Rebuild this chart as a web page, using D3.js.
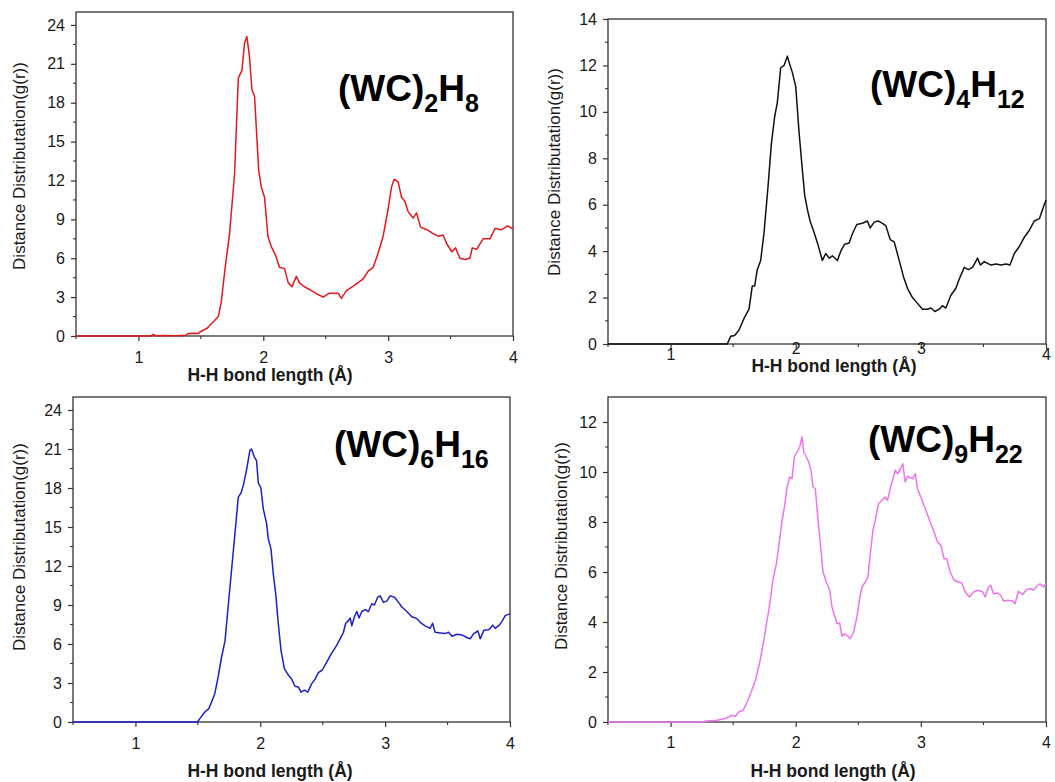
<!DOCTYPE html>
<html>
<head>
<meta charset="utf-8">
<script src="https://cdn.jsdelivr.net/npm/d3@7"></script>
<style>
  html, body { margin: 0; padding: 0; background: #fff; }
  svg { display: block; font-family: "Liberation Sans", Arial, sans-serif; }
</style>
</head>
<body>
<svg id="chart" width="1055" height="782"></svg>
<script>
// ---------- DATA ----------
const xTicks = [1, 2, 3, 4];
const xMinorTicks = [0.5, 1.5, 2.5, 3.5];
const xLabel = "H-H bond length (Å)";
const yLabel = "Distance Distributation(g(r))";

// (WC)2H8
const wc2h8X = [0.5,1.1,1.12,1.14,1.2,1.3,1.38,1.4,1.45,1.48,1.5,1.55,1.58,1.61,1.64,1.663,1.695,1.73,1.77,1.80,1.829,1.85,1.869,1.89,1.909,1.93,1.944,1.963,1.984,2.01,2.037,2.064,2.10,2.13,2.17,2.20,2.23,2.265,2.29,2.33,2.385,2.44,2.48,2.53,2.60,2.625,2.666,2.73,2.80,2.84,2.88,2.92,2.96,3.00,3.027,3.048,3.08,3.107,3.134,3.16,3.20,3.227,3.26,3.31,3.36,3.40,3.44,3.47,3.51,3.54,3.575,3.615,3.655,3.674,3.71,3.76,3.816,3.856,3.91,3.957,3.99,4.0];
const wc2h8Y = [0,0,0.12,0.02,0.03,0.02,0.05,0.2,0.22,0.2,0.35,0.6,0.9,1.2,1.5,2.6,5.3,7.9,12.5,19.9,20.5,22.6,23.1,21.5,19.0,18.5,16.1,12.8,11.5,10.7,7.7,6.9,6.2,5.3,5.2,4.1,3.8,4.6,4.1,3.8,3.5,3.2,3.0,3.3,3.3,2.9,3.5,3.9,4.4,5.0,5.3,6.4,7.7,9.8,11.5,12.1,11.9,10.7,10.4,9.6,9.1,9.5,8.4,8.2,7.9,7.7,7.8,7.1,6.5,6.8,6.0,5.9,6.0,6.8,6.7,7.5,7.5,8.3,8.2,8.5,8.3,8.3];

// (WC)4H12
const wc4h12X = [0.5,1.40,1.453,1.48,1.512,1.547,1.587,1.627,1.653,1.672,1.693,1.72,1.747,1.779,1.805,1.832,1.853,1.88,1.907,1.933,1.955,1.973,2.0,2.027,2.053,2.072,2.093,2.115,2.147,2.179,2.213,2.24,2.267,2.293,2.333,2.36,2.392,2.427,2.453,2.488,2.533,2.573,2.595,2.627,2.659,2.693,2.72,2.755,2.787,2.827,2.861,2.893,2.933,2.973,3.013,3.053,3.08,3.112,3.147,3.173,3.2,3.24,3.28,3.307,3.347,3.379,3.413,3.453,3.475,3.507,3.56,3.6,3.64,3.68,3.712,3.747,3.787,3.827,3.867,3.907,3.947,3.973,4.0];
const wc4h12Y = [0,0,0,0.33,0.37,0.6,1.1,1.5,2.5,2.5,3.2,3.6,4.8,6.8,8.6,9.8,10.4,11.9,12.0,12.4,12.0,11.7,11.1,9.1,7.5,6.4,5.8,5.3,4.8,4.25,3.6,3.9,3.7,3.8,3.6,4.0,4.3,4.35,4.75,5.15,5.2,5.3,5.0,5.25,5.3,5.2,5.1,4.5,4.4,3.6,2.9,2.4,2.0,1.75,1.5,1.5,1.55,1.4,1.5,1.65,1.55,2.1,2.4,2.8,3.3,3.2,3.3,3.7,3.4,3.55,3.4,3.45,3.4,3.45,3.4,3.9,4.2,4.6,4.9,5.3,5.4,5.8,6.2];

// (WC)6H16
const wc6h16X = [0.5,1.497,1.516,1.556,1.588,1.61,1.636,1.663,1.69,1.717,1.743,1.77,1.797,1.824,1.845,1.864,1.89,1.917,1.93,1.952,1.97,1.984,2.005,2.024,2.05,2.064,2.086,2.104,2.123,2.144,2.166,2.193,2.225,2.251,2.278,2.305,2.326,2.353,2.38,2.412,2.439,2.465,2.497,2.532,2.572,2.612,2.639,2.666,2.684,2.706,2.72,2.733,2.754,2.773,2.791,2.813,2.84,2.866,2.893,2.914,2.94,2.96,2.987,3.013,3.04,3.075,3.107,3.134,3.174,3.214,3.254,3.289,3.32,3.36,3.38,3.40,3.44,3.48,3.508,3.535,3.575,3.615,3.655,3.682,3.709,3.743,3.762,3.79,3.83,3.861,3.882,3.914,3.94,3.963,3.995,4.0];
const wc6h16Y = [0,0,0.26,0.77,1.03,1.54,2.2,3.5,5.0,6.2,8.9,11.7,14.5,17.3,17.6,18.2,19.4,20.9,21.0,20.4,20.1,18.4,18.0,16.4,15.3,14.1,13.3,11.4,9.9,7.6,5.5,4.1,3.6,3.3,2.75,2.7,2.3,2.45,2.3,2.95,3.3,3.8,4.0,4.6,5.3,5.9,6.4,6.9,7.6,7.8,8.0,7.4,8.1,8.5,8.0,8.5,8.65,8.5,9.1,9.0,9.6,9.7,9.2,9.3,9.7,9.6,9.2,8.85,8.5,8.1,7.95,7.6,7.4,7.2,7.6,6.9,6.85,6.8,6.9,6.6,6.75,6.7,6.5,6.4,6.8,7.0,6.4,7.05,7.1,7.45,7.2,7.45,7.8,8.2,8.3,8.3];

// (WC)9H22
const wc9h22X = [0.5,1.25,1.293,1.372,1.426,1.465,1.492,1.519,1.545,1.58,1.612,1.644,1.678,1.713,1.745,1.771,1.793,1.819,1.846,1.864,1.891,1.91,1.931,1.952,1.971,1.989,2.011,2.032,2.05,2.064,2.085,2.104,2.122,2.138,2.157,2.176,2.197,2.218,2.245,2.271,2.29,2.309,2.33,2.351,2.37,2.391,2.415,2.436,2.463,2.489,2.511,2.529,2.556,2.577,2.596,2.617,2.636,2.662,2.689,2.715,2.734,2.755,2.777,2.795,2.814,2.835,2.856,2.875,2.894,2.915,2.936,2.955,2.973,3.0,3.035,3.069,3.101,3.133,3.16,3.186,3.207,3.234,3.266,3.3,3.327,3.354,3.388,3.42,3.46,3.495,3.513,3.54,3.559,3.58,3.612,3.638,3.66,3.699,3.734,3.753,3.779,3.814,3.846,3.878,3.899,3.926,3.952,3.979,4.0];
const wc9h22Y = [0,0,0.04,0.07,0.13,0.2,0.27,0.23,0.4,0.47,0.8,1.2,1.67,2.4,3.27,4.07,4.73,5.73,6.33,7.0,8.07,8.6,9.4,9.8,9.73,10.6,10.8,11.0,11.4,10.8,10.6,10.4,10.07,9.4,9.33,8.2,7.13,6.0,5.6,5.27,4.6,4.27,3.93,3.96,3.43,3.53,3.44,3.33,3.6,4.2,4.93,5.4,5.6,5.8,6.73,7.67,8.07,8.73,8.87,9.0,8.87,9.33,9.73,10.07,9.93,10.1,10.33,9.6,9.83,9.77,9.73,9.93,9.33,9.0,8.53,8.07,7.67,7.2,7.07,6.53,6.53,6.0,5.67,5.6,5.56,5.2,5.0,5.2,5.27,5.2,5.0,5.4,5.47,5.13,5.16,5.07,4.84,4.87,4.84,4.73,5.23,5.1,5.3,5.33,5.27,5.43,5.53,5.4,5.53];

const titleMain = ["(WC)", "(WC)", "(WC)", "(WC)"];
const titleSubA = ["2", "4", "6", "9"];
const titleSubB = ["8", "12", "16", "22"];

// ---------- LAYOUT ----------
const panels = [
  { x: wc2h8X, y: wc2h8Y, color: "#e3191c", left: 76, right: 513, top: 12, bottom: 336, yMax: 25,
    yTicks: [0,3,6,9,12,15,18,21,24], yMinor: [1.5,4.5,7.5,10.5,13.5,16.5,19.5,22.5],
    yLabX: 19, yLabY: 166, xLabX: 270, xLabY: 381, tickLabDy: 27, titleX: 338, titleY: 101 },
  { x: wc4h12X, y: wc4h12Y, color: "#111111", left: 608, right: 1046, top: 19, bottom: 344, yMax: 14,
    yTicks: [0,2,4,6,8,10,12,14], yMinor: [1,3,5,7,9,11,13],
    yLabX: 554, yLabY: 172, xLabX: 834, xLabY: 372, tickLabDy: 16, titleX: 870, titleY: 97 },
  { x: wc6h16X, y: wc6h16Y, color: "#1f1fc4", left: 73, right: 510, top: 397, bottom: 722, yMax: 25,
    yTicks: [0,3,6,9,12,15,18,21,24], yMinor: [1.5,4.5,7.5,10.5,13.5,16.5,19.5,22.5],
    yLabX: 19, yLabY: 547, xLabX: 270, xLabY: 777, tickLabDy: 27, titleX: 334, titleY: 457 },
  { x: wc9h22X, y: wc9h22Y, color: "#ee74ee", left: 608, right: 1046, top: 397, bottom: 722, yMax: 13,
    yTicks: [0,2,4,6,8,10,12], yMinor: [1,3,5,7,9,11],
    yLabX: 561, yLabY: 546, xLabX: 833, xLabY: 777, tickLabDy: 26, titleX: 868, titleY: 452 }
];

const svg = d3.select("#chart");
const axisColor = "#333";

panels.forEach((p, i) => {
  const xs = d3.scaleLinear().domain([0.5, 4]).range([p.left, p.right]);
  const ys = d3.scaleLinear().domain([0, p.yMax]).range([p.bottom, p.top]);
  const g = svg.append("g");

  // frame
  g.append("rect")
    .attr("x", p.left).attr("y", p.top)
    .attr("width", p.right - p.left).attr("height", p.bottom - p.top)
    .attr("fill", "none").attr("stroke", axisColor).attr("stroke-width", 1.3);

  // minor ticks
  g.selectAll(".ymin").data(p.yMinor).enter().append("line")
    .attr("x1", p.left - 3).attr("x2", p.left)
    .attr("y1", d => ys(d)).attr("y2", d => ys(d))
    .attr("stroke", axisColor).attr("stroke-width", 1.1);
  g.selectAll(".xmin").data(xMinorTicks).enter().append("line")
    .attr("x1", d => xs(d)).attr("x2", d => xs(d))
    .attr("y1", p.bottom).attr("y2", p.bottom + 3)
    .attr("stroke", axisColor).attr("stroke-width", 1.1);

  // major axes
  const yAxis = d3.axisLeft(ys).tickValues(p.yTicks).tickSize(5).tickSizeOuter(0).tickPadding(6).tickFormat(d3.format("d"));
  const ya = g.append("g").attr("transform", `translate(${p.left},0)`).call(yAxis);
  ya.select(".domain").remove();
  ya.selectAll("line").attr("stroke", axisColor).attr("stroke-width", 1.2);
  ya.selectAll("text").attr("font-size", 16).attr("fill", "#1a1a1a");

  const xAxis = d3.axisBottom(xs).tickValues(xTicks).tickSize(5).tickSizeOuter(0).tickFormat(d3.format("d"));
  const xa = g.append("g").attr("transform", `translate(0,${p.bottom})`).call(xAxis);
  xa.select(".domain").remove();
  xa.selectAll("line").attr("stroke", axisColor).attr("stroke-width", 1.2);
  xa.selectAll("text").attr("font-size", 16).attr("fill", "#1a1a1a")
    .attr("dy", null).attr("y", d => (i === 1 && (d === 2 || d === 3)) ? p.tickLabDy - 6 : p.tickLabDy);

  // curve
  const pts = p.x.map((v, k) => [v, p.y[k]]);
  g.append("path").datum(pts)
    .attr("fill", "none").attr("stroke", p.color).attr("stroke-width", 1.5)
    .attr("stroke-linejoin", "round")
    .attr("d", d3.line().x(d => xs(d[0])).y(d => ys(d[1])));

  // axis labels
  g.append("text")
    .attr("transform", `translate(${p.yLabX},${p.yLabY}) rotate(-90)`)
    .attr("text-anchor", "middle").attr("dominant-baseline", "central")
    .attr("font-size", 17).attr("fill", "#1a1a1a").text(yLabel);
  g.append("text")
    .attr("x", p.xLabX).attr("y", p.xLabY)
    .attr("text-anchor", "middle").attr("font-size", 17.5).attr("font-weight", "bold")
    .attr("fill", "#1a1a1a").text(xLabel);

  // title
  const t = g.append("text").attr("x", p.titleX).attr("y", p.titleY)
    .attr("font-weight", "bold").attr("fill", "#000").attr("font-size", 37);
  t.append("tspan").text(titleMain[i]);
  t.append("tspan").attr("font-size", 25).attr("dy", 11).text(titleSubA[i]);
  t.append("tspan").attr("font-size", 37).attr("dy", -11).text("H");
  t.append("tspan").attr("font-size", 25).attr("dy", 11).text(titleSubB[i]);
});
</script>
</body>
</html>
